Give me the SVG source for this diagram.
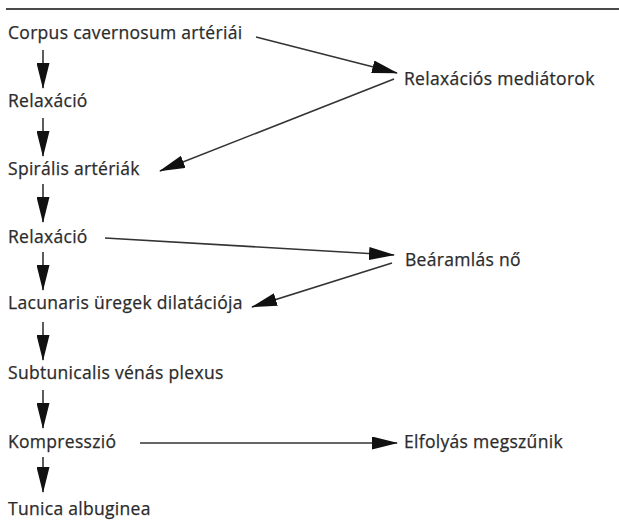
<svg xmlns="http://www.w3.org/2000/svg" width="619" height="520" viewBox="0 0 619 520">
  <style>
    .lbl { font-family: "Open Sans", "Noto Sans", "DejaVu Sans", sans-serif; font-size: 17.5px; letter-spacing: 0.3px; fill: #2b2b2b; stroke: #2b2b2b; stroke-width: 0.25; }
    .edge { stroke: #333333; stroke-width: 1.6; fill: none; marker-end: url(#head); }
  </style>
  <defs>
    <marker id="head" markerUnits="userSpaceOnUse" markerWidth="26" markerHeight="13" refX="25" refY="6.5" orient="auto">
      <path d="M0,0 L26,6.5 L0,13 Z" fill="#111111"/>
    </marker>
  </defs>
  <rect width="619" height="520" fill="#ffffff"/>
  <line x1="6" y1="9" x2="619" y2="9" stroke="#4a4a4a" stroke-width="2"/>

  <g id="n-corpus"><text class="lbl" x="8" y="39">Corpus cavernosum artériái</text></g>
  <g id="n-relax1"><text class="lbl" x="8" y="107">Relaxáció</text></g>
  <g id="n-spiral"><text class="lbl" x="8" y="175">Spirális artériák</text></g>
  <g id="n-relax2"><text class="lbl" x="8" y="243">Relaxáció</text></g>
  <g id="n-lacunar"><text class="lbl" x="8" y="309">Lacunaris üregek dilatációja</text></g>
  <g id="n-subtun"><text class="lbl" x="8" y="379">Subtunicalis vénás plexus</text></g>
  <g id="n-kompr"><text class="lbl" x="8" y="448">Kompresszió</text></g>
  <g id="n-tunica"><text class="lbl" x="8" y="515">Tunica albuginea</text></g>
  <g id="n-mediator"><text class="lbl" x="404" y="85">Relaxációs mediátorok</text></g>
  <g id="n-bearam"><text class="lbl" x="405" y="266">Beáramlás nő</text></g>
  <g id="n-elfoly"><text class="lbl" x="404" y="448">Elfolyás megszűnik</text></g>

  <g id="connectors">
    <line class="edge" x1="43" y1="50" x2="43" y2="88"/>
    <line class="edge" x1="43" y1="118" x2="43" y2="156"/>
    <line class="edge" x1="43" y1="184" x2="43" y2="222"/>
    <line class="edge" x1="43" y1="252" x2="43" y2="290"/>
    <line class="edge" x1="43" y1="322" x2="43" y2="360"/>
    <line class="edge" x1="43" y1="390" x2="43" y2="428"/>
    <line class="edge" x1="43" y1="457" x2="43" y2="492"/>
    <line class="edge" x1="256" y1="37" x2="397" y2="73"/>
    <line class="edge" x1="394" y1="79" x2="160" y2="171"/>
    <line class="edge" x1="105" y1="238" x2="394" y2="255"/>
    <line class="edge" x1="392" y1="263" x2="252" y2="307"/>
    <line class="edge" x1="140" y1="443" x2="397" y2="443"/>
  </g>
</svg>
